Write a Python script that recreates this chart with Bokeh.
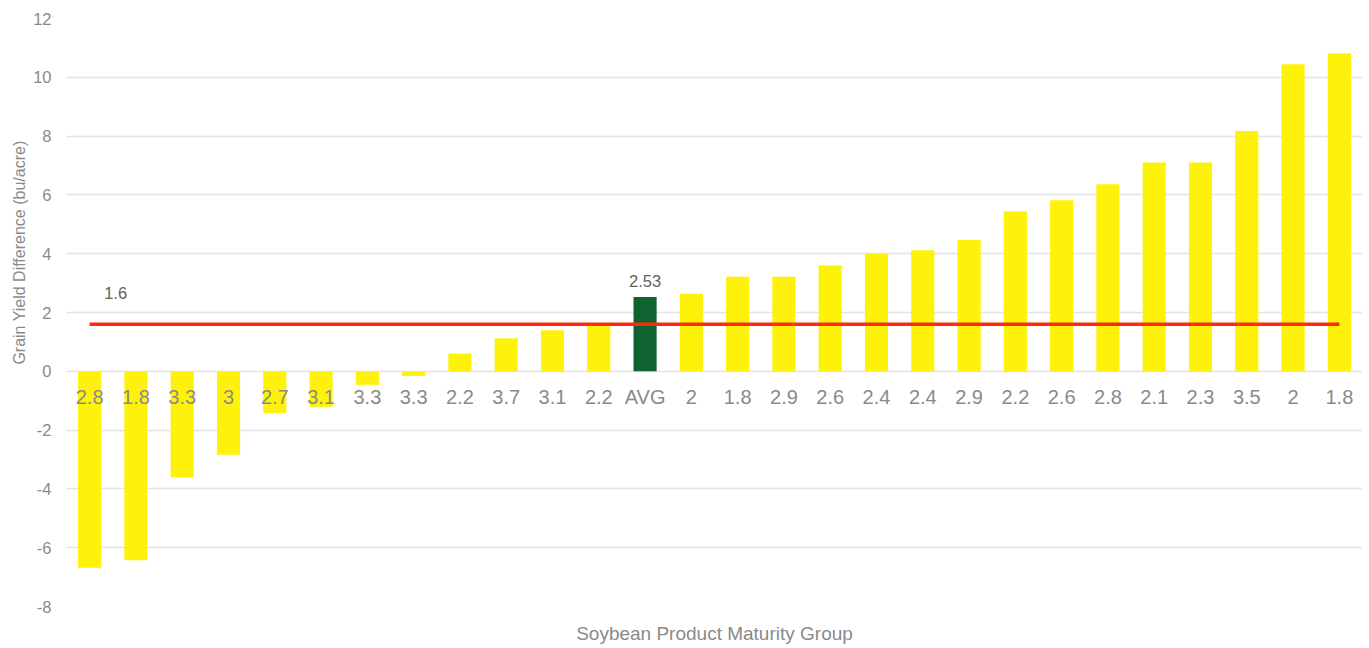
from bokeh.plotting import figure
from bokeh.models import ColumnDataSource, FixedTicker, Title
from bokeh.core.properties import value
from bokeh.embed import file_html
from bokeh.resources import INLINE

labels = ["2.8", "1.8", "3.3", "3", "2.7", "3.1", "3.3", "3.3", "2.2", "3.7", "3.1", "2.2",
          "AVG", "2", "1.8", "2.9", "2.6", "2.4", "2.4", "2.9", "2.2", "2.6", "2.8", "2.1",
          "2.3", "3.5", "2", "1.8"]
values = [-6.68, -6.43, -3.61, -2.84, -1.42, -1.21, -0.46, -0.16, 0.60, 1.12, 1.40, 1.62,
          2.53, 2.64, 3.22, 3.22, 3.60, 3.99, 4.12, 4.47, 5.44, 5.82, 6.36, 7.10,
          7.10, 8.17, 10.44, 10.81]
threshold = 1.6
avg_label = "AVG"
y_ticks = [-8, -6, -4, -2, 0, 2, 4, 6, 8, 10, 12]

YELLOW = "#FFF20A"
GREEN = "#106330"
FONT = "Liberation Sans"
GRAY = "#8A8A8A"

xs = list(range(len(labels)))
colors = [GREEN if l == avg_label else YELLOW for l in labels]
src = ColumnDataSource(dict(x=xs, top=values, label=labels, color=colors,
                            zero=[0] * len(xs)))

p = figure(frame_width=1296, frame_height=588, x_range=(-0.5, len(labels) - 0.5),
           y_range=(y_ticks[0], y_ticks[-1]), output_backend="svg", toolbar_location=None,
           min_border_left=66, min_border_right=0, min_border_top=18, min_border_bottom=30)
p.outline_line_color = None
p.background_fill_color = "white"
p.border_fill_color = "white"

p.vbar(x="x", top="top", bottom=0, width=0.5, fill_color="color", line_color=None, source=src)

# threshold line
p.line(x=[xs[0], xs[-1]], y=[threshold, threshold], line_color="#FF2A0A", line_width=3.5)

# category labels near zero
p.text(x="x", y="zero", text="label", source=src, text_align="center", text_baseline="middle",
       y_offset=26, text_font=value(FONT), text_font_size="20px", text_color=GRAY)

# threshold label
p.text(x=[xs[0]], y=[threshold], text=[str(threshold)], x_offset=26, y_offset=-31,
       text_align="center", text_baseline="middle", text_font=value(FONT),
       text_font_size="16.5px", text_color="#606060")

# avg value label
ai = labels.index(avg_label)
p.text(x=[xs[ai]], y=[values[ai]], text=[f"{values[ai]:.2f}"], y_offset=-16,
       text_align="center", text_baseline="middle", text_font=value(FONT),
       text_font_size="16.5px", text_color="#606060")

# y axis
p.yaxis.ticker = FixedTicker(ticks=y_ticks)
p.yaxis.major_label_overrides = {t: str(t) for t in y_ticks}
p.yaxis.axis_line_color = None
p.yaxis.major_tick_line_color = None
p.yaxis.minor_tick_line_color = None
p.yaxis.major_label_standoff = 9
p.yaxis.major_label_text_font = FONT
p.yaxis.major_label_text_font_size = "16.5px"
p.yaxis.major_label_text_color = GRAY

# y axis title, placed toward the top like the reference
ytitle = Title(text="Grain Yield Difference (bu/acre)", align="right", offset=122,
               text_font=FONT, text_font_size="16px", text_font_style="normal",
               text_color=GRAY, standoff=6)
p.add_layout(ytitle, "left")

# x axis
p.xaxis.ticker = FixedTicker(ticks=[])
p.xaxis.axis_line_color = None
p.xaxis.major_tick_line_color = None
p.xaxis.minor_tick_line_color = None
p.xaxis.major_label_text_font_size = "0px"
p.xaxis.axis_label = "Soybean Product Maturity Group"
p.xaxis.axis_label_text_font = FONT
p.xaxis.axis_label_text_font_size = "19px"
p.xaxis.axis_label_text_font_style = "normal"
p.xaxis.axis_label_text_color = GRAY
p.xaxis.axis_label_standoff = 16

p.xgrid.grid_line_color = None
p.ygrid.grid_line_color = "#E3E3E3"
p.ygrid.grid_line_width = 1.5

open("out.html", "w").write(file_html(p, INLINE))
